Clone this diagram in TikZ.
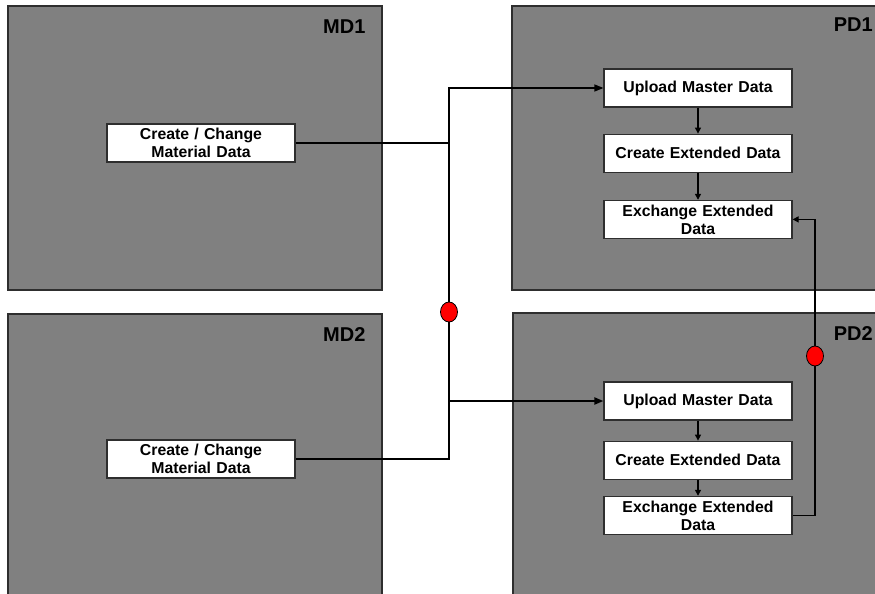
\documentclass[tikz,border=0pt]{standalone}
\usepackage{fontspec}
\setmainfont{Liberation Sans}
\usetikzlibrary{shapes.geometric,arrows.meta,positioning}
\definecolor{panel}{HTML}{808080}
\definecolor{rim}{HTML}{2E2E2E}
\hyphenpenalty=10000

\tikzset{
  area/.style={draw=rim, fill=panel, line width=1.3pt},
  task/.style={draw=rim, fill=white, line width=1.2pt, minimum width=188pt,
    minimum height=38pt, text width=170pt, inner xsep=9pt, inner ysep=1pt,
    align=center, font=\fontsize{15.8}{18}\selectfont\bfseries},
  tag/.style={font=\fontsize{20}{22}\selectfont\bfseries},
  joint/.style={ellipse, draw=black, fill=red, minimum width=17pt,
    minimum height=20pt, inner sep=0pt, line width=0.8pt},
  link/.style={line width=1.2pt},
  arr/.style={link, -{Triangle[length=9pt,width=7pt]}},
  flow/.style={link, -{Triangle[length=6pt,width=6pt]}}
}

\begin{document}
\begin{tikzpicture}[x=1pt, y=-1pt]
  \clip (0,0) rectangle (875,594);
  % the four areas
  \draw[area] (8,6) rectangle (382,290);
  \draw[area] (512,6) rectangle (900,290);
  \draw[area] (8,314) rectangle (382,620);
  \draw[area] (513,313) rectangle (900,620);
  \node[tag, anchor=base east] (md1) at (369,34) {MD1};
  \node[tag, anchor=base east] (md2) at (369,341) {MD2};
  \node[tag, anchor=base east, inner xsep=1pt] (pd1) at (874,32) {PD1};
  \node[tag, anchor=base east, inner xsep=1pt] (pd2) at (874,340) {PD2};

  % tasks
  \node[task] (mc1) at (201,143) {Create / Change\\Material Data};
  \node[task] (mc2) at (201,459) {Create / Change\\Material Data};
  \node[task] (up1) at (698,88) {Upload Master Data};
  \node[task, below=26pt of up1] (ce1) {Create Extended Data};
  \node[task, below=27pt of ce1] (ex1) {Exchange Extended\\Data};
  \node[task] (up2) at (698,401) {Upload Master Data};
  \node[task, below=20pt of up2] (ce2) {Create Extended Data};
  \node[task, below=16pt of ce2] (ex2) {Exchange Extended\\Data};

  % connectors
  \coordinate (bus) at (449,0);
  \coordinate (ring) at (815,0);
  \draw[arr] (mc2.east) -- (mc2.east -| bus) -- (up1.west -| bus) -- (up1.west);
  \draw[link] (mc1.east) -- (mc1.east -| bus);
  \draw[arr, line width=2pt] (up2.west -| bus) -- (up2.west);
  \draw[flow] (up1) -- (ce1);
  \draw[flow] (ce1) -- (ex1);
  \draw[flow] (up2) -- (ce2);
  \draw[flow] (ce2) -- (ex2);
  \draw[flow, {Triangle[length=6pt,width=6pt]}-] (ex1.east) -- (ex1.east -| ring)
    -- (ex2.east -| ring) -- (ex2.east);

  \node[joint] (cut1) at (449,312) {};
  \node[joint] (cut2) at (815,356) {};
\end{tikzpicture}
\end{document}
